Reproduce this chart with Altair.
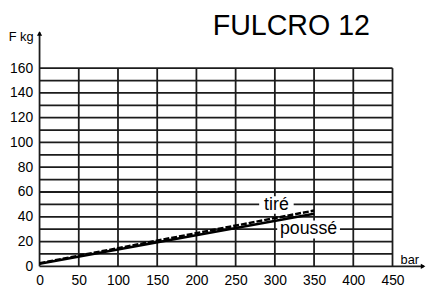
import altair as alt
import pandas as pd

# ---- values ----
title_text = "FULCRO 12"
y_title = "F kg"
x_title = "bar"
series_names = ["tiré", "poussé"]
pressure_bar = [0, 350]
force_tire_kg = [2.5, 45]
force_pousse_kg = [2, 42.5]
x_ticks = [0, 50, 100, 150, 200, 250, 300, 350, 400, 450]
y_ticks = [0, 20, 40, 60, 80, 100, 120, 140, 160]
x_grid = [50, 100, 150, 200, 250, 300, 350, 400, 450]
y_grid = [10, 20, 30, 40, 50, 60, 70, 80, 90, 100, 110, 120, 130, 140, 150, 160]

# label placement (data units)
label_x = [302, 343]
label_y = [45.4, 26.3]
box_x = [280, 303]
box_x2 = [324, 383]
box_y = [42.5, 22.5]
box_y2 = [56.5, 37]

FONT = "Liberation Sans"
INK = "#1c1c1c"

xs = alt.Scale(domain=[0, 450], nice=False, zero=False)
ys = alt.Scale(domain=[0, 160], nice=False, zero=False)

x_axis = alt.Axis(values=x_ticks, title=None, grid=False, ticks=False, domain=False,
                  labelPadding=7, labelFontSize=14, labelFont=FONT, labelColor="black",
                  labelFlush=False, labelOverlap=False)
y_axis = alt.Axis(values=y_ticks, title=None, grid=False, ticks=False, domain=False,
                  labelPadding=7, labelFontSize=14, labelFont=FONT, labelColor="black",
                  labelFlush=False, labelOverlap=False)


def X(f):
    return alt.X(f, scale=xs, axis=x_axis)


def Y(f):
    return alt.Y(f, scale=ys, axis=y_axis)


hgrid = alt.Chart(pd.DataFrame({"v": y_grid})).mark_rule(color=INK, strokeWidth=1.8).encode(
    y=Y("v:Q"))
vgrid = alt.Chart(pd.DataFrame({"v": x_grid})).mark_rule(color=INK, strokeWidth=1.8).encode(
    x=X("v:Q"))

boxes = alt.Chart(pd.DataFrame({"x": box_x, "x2": box_x2, "y": box_y, "y2": box_y2})).mark_rect(
    color="white").encode(x=X("x:Q"), x2="x2:Q", y=Y("y:Q"), y2="y2:Q")

# axes with arrows
yaxis_line = alt.Chart(pd.DataFrame({"x": [0], "y": [0], "y2": [189]})).mark_rule(
    color=INK, strokeWidth=1.8).encode(x=X("x:Q"), y=Y("y:Q"), y2="y2:Q")
xaxis_line = alt.Chart(pd.DataFrame({"x": [0], "x2": [490], "y": [0]})).mark_rule(
    color=INK, strokeWidth=1.8).encode(x=X("x:Q"), x2="x2:Q", y=Y("y:Q"))
arrow_up = alt.Chart(pd.DataFrame({"x": [0], "y": [188]})).mark_point(
    shape="triangle-up", filled=True, color="black", opacity=1, size=28).encode(
    x=X("x:Q"), y=Y("y:Q"))
arrow_right = alt.Chart(pd.DataFrame({"x": [489], "y": [0]})).mark_point(
    shape="triangle-right", filled=True, color="black", opacity=1, size=28).encode(
    x=X("x:Q"), y=Y("y:Q"))

pousse = alt.Chart(pd.DataFrame({"bar": pressure_bar, "kg": force_pousse_kg})).mark_line(
    color="black", strokeWidth=2.5).encode(x=X("bar:Q"), y=Y("kg:Q"))
tire = alt.Chart(pd.DataFrame({"bar": pressure_bar, "kg": force_tire_kg})).mark_line(
    color="black", strokeWidth=2.5, strokeDash=[6, 2]).encode(x=X("bar:Q"), y=Y("kg:Q"))

labels = alt.Chart(pd.DataFrame({"t": series_names, "x": label_x, "y": label_y})).mark_text(
    font=FONT, fontSize=18, color="black", align="center", baseline="alphabetic").encode(
    x=X("x:Q"), y=Y("y:Q"), text="t:N")

title = alt.Chart(pd.DataFrame({"t": [title_text], "x": [321], "y": [186.8]})).mark_text(
    font=FONT, fontSize=29, color="black", align="center", baseline="alphabetic").encode(
    x=X("x:Q"), y=Y("y:Q"), text="t:N")
ytitle = alt.Chart(pd.DataFrame({"t": [y_title], "x": [0], "y": [181.6]})).mark_text(
    font=FONT, fontSize=13, color="black", align="right", baseline="alphabetic", dx=-6).encode(
    x=X("x:Q"), y=Y("y:Q"), text="t:N")
xtitle = alt.Chart(pd.DataFrame({"t": [x_title], "x": [472], "y": [1.6]})).mark_text(
    font=FONT, fontSize=13, color="black", align="center", baseline="alphabetic").encode(
    x=X("x:Q"), y=Y("y:Q"), text="t:N")

chart = alt.layer(
    hgrid, vgrid, boxes, yaxis_line, xaxis_line, pousse, tire, labels,
    arrow_up, arrow_right, title, ytitle, xtitle
).properties(
    width=358, height=201,
    autosize=alt.AutoSizeParams(type="none"),
    padding={"left": 32, "top": 59, "right": 36, "bottom": 20},
    background="white",
).configure_view(stroke=None)

chart.save("out.html", embed_options={"renderer": "svg", "actions": False})
